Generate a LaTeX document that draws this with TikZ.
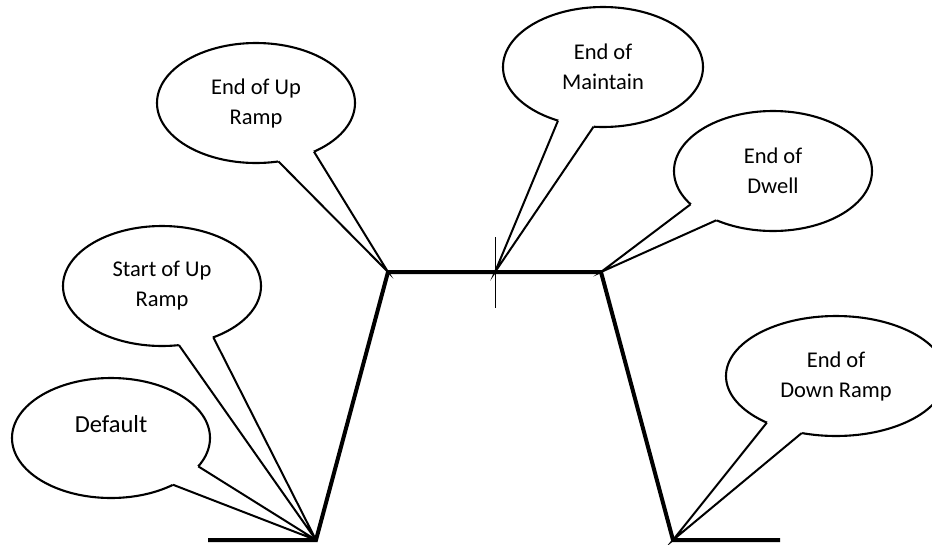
\documentclass[tikz,border=0pt]{standalone}
\usepackage{fontspec}
\setmainfont{Carlito}
\usetikzlibrary{shapes.geometric,calc}
\tikzset{
  bubble/.style={ellipse,draw,fill=white,line width=2.1pt,minimum width=198pt,minimum height=120pt,
    inner sep=0pt,outer sep=0pt,align=center,font=\fontsize{22.5}{30}\selectfont},
  tail/.style={line width=2pt},
  profile/.style={line width=4pt}
}
\begin{document}
\begin{tikzpicture}[x=1pt,y=-1pt]
  \useasboundingbox (0,0) rectangle (932,544);
  \clip (0,0) rectangle (932,544);
  % corners of the profile
  \coordinate (rampstart) at (316,540);
  \coordinate (rampend) at (388,272);
  \coordinate (maintain) at (495,272);
  \coordinate (dwell) at (601,272);
  \coordinate (downend) at (673,540);
  % callouts
  \node[bubble,text height=16pt,text depth=27pt,font=\fontsize{24.5}{28}\selectfont] (default) at (111,438) {Default};
  \node[bubble] (startup) at (162,286) {Start of Up\\Ramp};
  \node[bubble] (endup) at (256,103) {End of Up\\Ramp};
  \node[bubble,minimum width=200pt] (endmaint) at (603,67) {End of\\Maintain};
  \node[bubble] (enddwell) at (773,171) {End of\\Dwell};
  \node[bubble,minimum width=220pt] (enddown) at (836,376) {End of\\Down Ramp};
  \def\tails{default/-18.4/-37.2/rampstart, startup/-45/-74.8/rampstart, endup/-40.7/-69.6/rampend,
    endmaint/-130.3/-99.5/maintain, enddwell/-158.1/-139.9/dwell, enddown/-146.5/-121.1/downend}
  \foreach \b/\p/\q/\t in \tails
    \fill[white] (\b.\p) -- (\t) -- (\b.\q) -- ($(\b.center)!0.85!(\b.\q)$) -- ($(\b.center)!0.85!(\b.\p)$) -- cycle;
  \foreach \b/\p/\q/\t in \tails
    \draw[tail] (\b.\p) -- (\t) -- (\b.\q);
  % the profile
  \draw[profile] (208,540) -- (rampstart) -- (rampend) -- (dwell) -- (downend) -- (780,540);
  \draw[line width=1pt] (495,237) -- (495,308);
\end{tikzpicture}
\end{document}
